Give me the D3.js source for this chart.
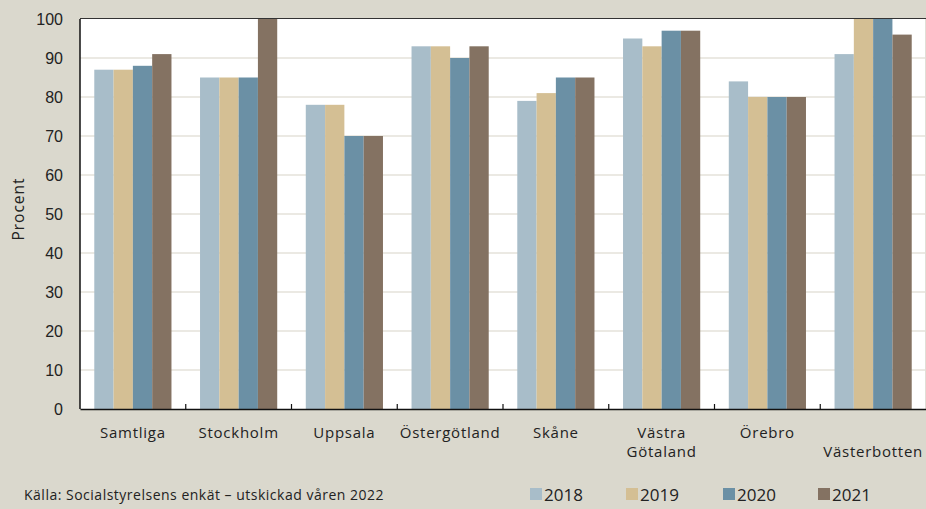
<!DOCTYPE html>
<html>
<head>
<meta charset="utf-8">
<script src="https://cdn.jsdelivr.net/npm/d3@7"></script>
<style>
  html, body { margin: 0; padding: 0; background: #dad8cd; }
  svg { display: block; font-family: "Open Sans", "Noto Sans", sans-serif; }
</style>
</head>
<body>
<svg id="chart" width="926" height="509"></svg>
<script>
// Regions (two-line labels use "\n")
const categories = ["Samtliga", "Stockholm", "Uppsala", "Östergötland", "Skåne", "Västra\nGötaland", "Örebro", "\nVästerbotten"];
const years = ["2018", "2019", "2020", "2021"];
const values2018 = [87, 85, 78, 93, 79, 95, 84, 91];
const values2019 = [87, 85, 78, 93, 81, 93, 80, 100];
const values2020 = [88, 85, 70, 90, 85, 97, 80, 100];
const values2021 = [91, 100, 70, 93, 85, 97, 80, 96];
const yTicks = [0, 10, 20, 30, 40, 50, 60, 70, 80, 90, 100];
const colors = ["#a8bdc9", "#d4bf94", "#6b90a5", "#847262"];
const series = [values2018, values2019, values2020, values2021];

const svg = d3.select("#chart");
const mLeft = 80, mRight = 926, mTop = 19, mBottom = 409;

const x = d3.scaleBand().domain(categories).range([mLeft, mRight]).paddingInner(0).paddingOuter(0);
const xs = d3.scaleBand().domain(years).range([0, x.bandwidth()]).paddingOuter(0.74).paddingInner(0);
const y = d3.scaleLinear().domain([0, 100]).range([mBottom, mTop]);

// Plot background
svg.append("rect").attr("x", mLeft).attr("y", mTop).attr("width", mRight - mLeft).attr("height", mBottom - mTop).attr("fill", "#ffffff");

// Gridlines
svg.append("g").selectAll("line").data(yTicks.filter(d => d > 0 && d < 100)).join("line")
  .attr("x1", mLeft).attr("x2", mRight)
  .attr("y1", d => y(d)).attr("y2", d => y(d))
  .attr("stroke", "#e4e2da").attr("stroke-width", 1.3);

// Bars
const groups = svg.append("g").selectAll("g").data(categories).join("g")
  .attr("transform", d => `translate(${x(d)},0)`);
groups.selectAll("rect").data((d, i) => years.map((yr, j) => ({ yr, v: series[j][i], j }))).join("rect")
  .attr("x", d => xs(d.yr))
  .attr("width", xs.bandwidth())
  .attr("y", d => y(d.v))
  .attr("height", d => y(0) - y(d.v))
  .attr("fill", d => colors[d.j]);

// Y axis
const yAxis = svg.append("g").attr("transform", `translate(${mLeft},0)`)
  .call(d3.axisLeft(y).tickValues(yTicks).tickSize(0).tickPadding(17));
yAxis.select(".domain").remove();
yAxis.selectAll("text").attr("font-size", 16).attr("fill", "#222");

// Frame lines
svg.append("line").attr("x1", mLeft).attr("x2", mLeft).attr("y1", mTop).attr("y2", mBottom).attr("stroke", "#111").attr("stroke-width", 1.5);
svg.append("line").attr("x1", mLeft).attr("x2", mRight).attr("y1", mTop - 0.5).attr("y2", mTop - 0.5).attr("stroke", "#333").attr("stroke-width", 1.2);
svg.append("line").attr("x1", mRight - 0.5).attr("x2", mRight - 0.5).attr("y1", mTop).attr("y2", mBottom).attr("stroke", "#e0ded6").attr("stroke-width", 1);

// X axis
const xAxis = svg.append("g").attr("transform", `translate(0,${mBottom})`)
  .call(d3.axisBottom(x).tickSize(0).tickFormat(""));
xAxis.select(".domain").attr("stroke", "#111").attr("stroke-width", 1.5);
// tick marks between groups
svg.append("g").selectAll("line").data(categories.slice(1)).join("line")
  .attr("x1", d => x(d)).attr("x2", d => x(d))
  .attr("y1", mBottom).attr("y2", mBottom - 5)
  .attr("stroke", "#111").attr("stroke-width", 1.2);

// Category labels
svg.append("g").selectAll("text").data(categories).join("text")
  .attr("text-anchor", "middle")
  .attr("font-size", 15).attr("letter-spacing", 0.75).attr("fill", "#222")
  .each(function (d) {
    const lines = d.split("\n");
    const t = d3.select(this);
    lines.forEach((ln, k) => {
      t.append("tspan").attr("x", x(d) + x.bandwidth() / 2).attr("y", 438 + k * 19).text(ln);
    });
  });

// Y title
svg.append("text").attr("transform", "translate(24,209) rotate(-90)")
  .attr("text-anchor", "middle").attr("font-size", 15.5).attr("letter-spacing", 1).attr("fill", "#222").text("Procent");

// Source note
svg.append("text").attr("x", 24).attr("y", 500).attr("font-size", 14).attr("letter-spacing", 0.5).attr("fill", "#222")
  .text("Källa: Socialstyrelsens enkät – utskickad våren 2022");

// Legend
const legendX = [530, 626, 723, 818];
const lg = svg.append("g").selectAll("g").data(years).join("g")
  .attr("transform", (d, i) => `translate(${legendX[i]},488)`);
lg.append("rect").attr("width", 12).attr("height", 12).attr("fill", (d, i) => colors[i]);
lg.append("text").attr("x", 14).attr("y", 12.5).attr("font-size", 17).attr("fill", "#222").text(d => d);
</script>
</body>
</html>
